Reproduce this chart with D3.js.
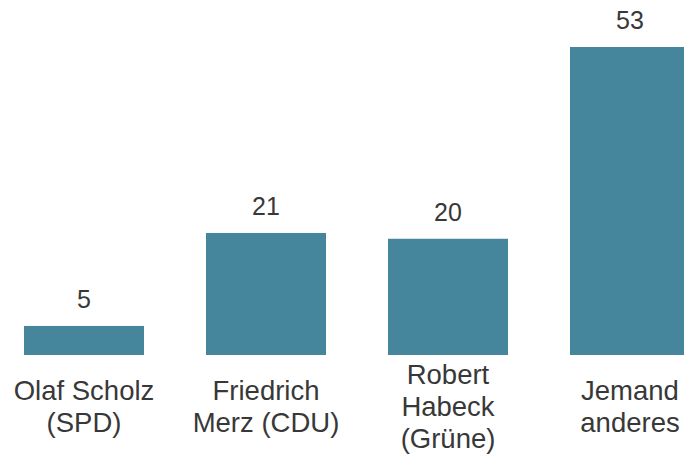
<!DOCTYPE html>
<html>
<head>
<meta charset="utf-8">
<script src="https://cdn.jsdelivr.net/npm/d3@7"></script>
<style>
  body { margin: 0; background: #fff; }
  svg { display: block; font-family: "Liberation Sans", Arial, sans-serif; }
  .value { font-size: 25px; fill: #383838; text-anchor: middle; }
  .cat { font-size: 27.5px; fill: #383838; text-anchor: middle; }
</style>
</head>
<body>
<svg width="684" height="456"></svg>
<script>
// data
var categories = ["Olaf Scholz (SPD)", "Friedrich Merz (CDU)", "Robert Habeck (Grüne)", "Jemand anderes"];
var labelLines = [["Olaf Scholz", "(SPD)"], ["Friedrich", "Merz (CDU)"], ["Robert", "Habeck", "(Grüne)"], ["Jemand", "anderes"]];
var values = [5, 21, 20, 53];

var svg = d3.select("svg");

var x = d3.scaleBand()
    .domain(categories)
    .range([24, 690])
    .paddingInner(62 / 182)
    .paddingOuter(0);

var y = d3.scaleLinear()
    .domain([0, 53]).range([355, 47]);

var bars = svg.selectAll("g.bar")
    .data(categories)
    .enter()
    .append("g")
    .attr("class", "bar");

bars.append("rect")
    .attr("x", function(d) { return x(d); })
    .attr("y", function(d, i) { return y(values[i]); })
    .attr("width", x.bandwidth())
    .attr("height", function(d, i) { return y(0) - y(values[i]); })
    .style("fill", "#45869d");

bars.append("text")
    .attr("class", "value")
    .attr("x", function(d) { return x(d) + x.bandwidth() / 2; })
    .attr("y", function(d, i) { return y(values[i]) - 18; })
    .text(function(d, i) { return values[i]; });

// category labels, centred around baseline 416
var lineH = 32;
bars.append("text")
    .attr("class", "cat")
    .each(function(d, i) {
        var lines = labelLines[i];
        var first = 416 - (lines.length - 1) * lineH / 2;
        var t = d3.select(this);
        lines.forEach(function(l, j) {
            t.append("tspan")
                .attr("x", x(d) + x.bandwidth() / 2)
                .attr("y", first + j * lineH)
                .text(l);
        });
    });
</script>
</body>
</html>
